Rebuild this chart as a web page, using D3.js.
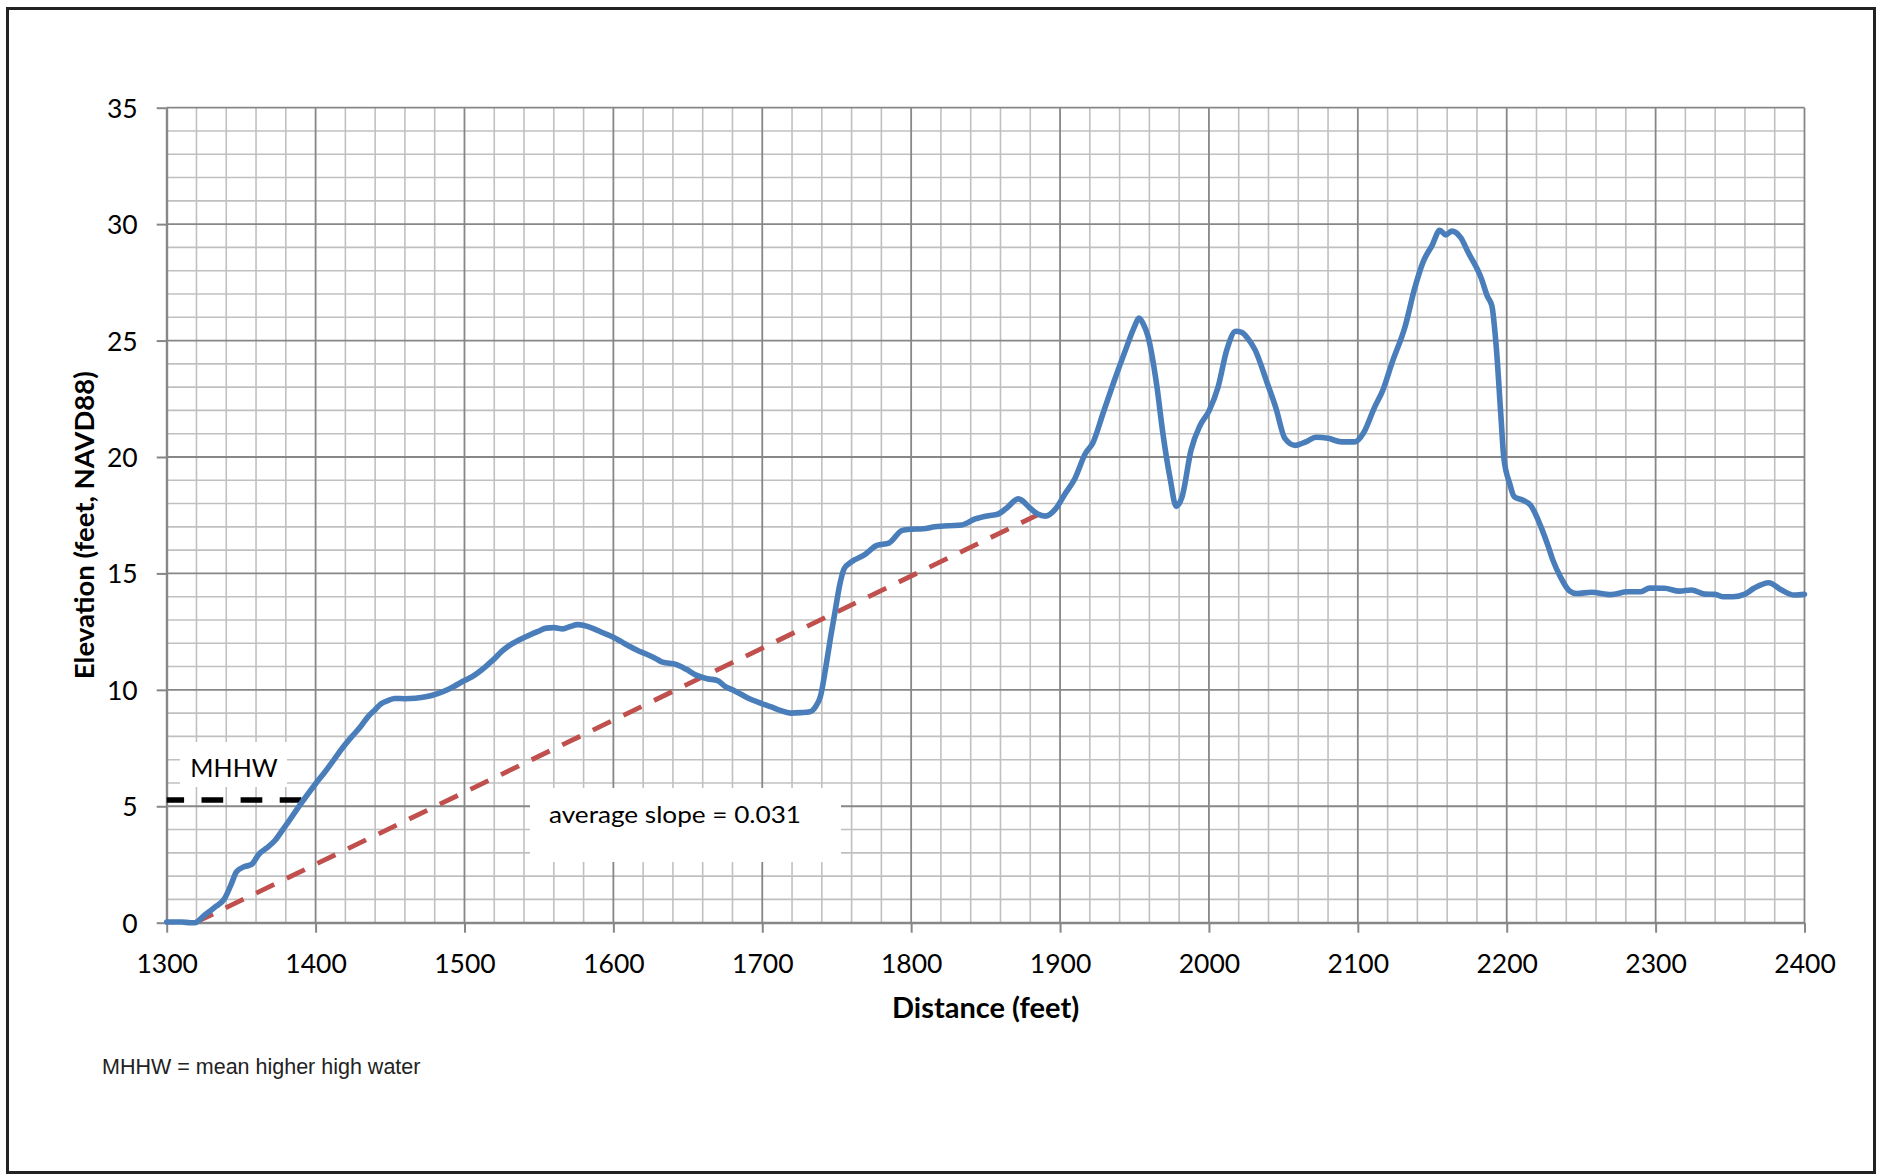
<!DOCTYPE html>
<html>
<head>
<meta charset="utf-8">
<script src="https://cdn.jsdelivr.net/npm/d3@7"></script>
<style>
  html, body { margin: 0; padding: 0; background: #fff; }
  svg { display: block; }
</style>
</head>
<body>
<svg id="chart" width="1881" height="1176"></svg>
<script>
// ---------- DATA ----------
const distance = [1300,1310,1316,1319,1325,1332,1339,1343,1347,1352,1357,1362,1367,1373,1378,1383,1390,1400,1406,1412,1418,1424,1430,1435,1440,1444,1449,1453,1460,1467,1474,1482,1490,1500,1506,1511,1516,1520,1525,1530,1537,1543,1549,1555,1560,1566,1571,1576,1581,1587,1593,1600,1605,1610,1616,1622,1628,1633,1642,1649,1656,1663,1670,1675,1680,1686,1691,1698,1706,1712,1719,1726,1732,1736,1739,1743,1746,1749,1752,1755,1760,1768,1777,1785,1794,1800,1808,1816,1825,1834,1843,1852,1858,1864,1872,1880,1885,1890,1897,1903,1910,1917,1922,1929,1936,1944,1950,1953,1956,1959,1965,1969,1974,1978,1982,1988,1994,2000,2006,2012,2018,2022,2026,2031,2039,2045,2051,2058,2065,2072,2080,2089,2098,2104,2111,2117,2123,2132,2138,2144,2150,2155,2159,2163,2169,2174,2183,2187,2190,2193,2196,2198,2202,2205,2211,2216,2223,2228,2231,2236,2242,2247,2257,2270,2281,2290,2296,2306,2316,2324,2333,2340,2345,2352,2360,2366,2376,2384,2393,2400];
const elevation = [0.03,0.03,0.0,0.0,0.3,0.65,1.05,1.6,2.2,2.4,2.5,2.95,3.2,3.55,4.0,4.45,5.1,5.97,6.45,6.97,7.5,7.97,8.4,8.83,9.15,9.4,9.55,9.63,9.62,9.64,9.7,9.84,10.05,10.4,10.6,10.83,11.1,11.33,11.65,11.9,12.15,12.33,12.5,12.65,12.67,12.62,12.72,12.8,12.75,12.62,12.45,12.26,12.08,11.9,11.7,11.54,11.36,11.19,11.09,10.88,10.62,10.48,10.4,10.15,10.0,9.8,9.63,9.45,9.27,9.12,9.0,9.02,9.06,9.3,9.7,11.1,12.3,13.4,14.5,15.2,15.5,15.77,16.2,16.3,16.85,16.9,16.92,17.0,17.05,17.08,17.34,17.48,17.54,17.8,18.2,17.8,17.55,17.46,17.77,18.38,19.08,20.15,20.6,21.9,23.2,24.6,25.6,25.97,25.7,25.2,23.05,21.05,19.05,17.88,18.3,20.3,21.35,21.97,22.97,24.6,25.4,25.35,25.1,24.6,23.2,22.1,20.8,20.5,20.65,20.85,20.8,20.65,20.65,21.05,22.1,22.9,24.05,25.66,27.2,28.4,29.1,29.74,29.54,29.7,29.43,28.8,27.66,26.9,26.5,24.7,21.86,20.0,18.86,18.3,18.14,17.93,17.0,16.14,15.57,14.86,14.26,14.14,14.19,14.09,14.21,14.21,14.37,14.36,14.24,14.29,14.11,14.1,14.0,14.0,14.11,14.36,14.6,14.31,14.07,14.1];

const slopeX = [1319, 1886];
const slopeY = [0, 17.55];
const mhhwX = [1300, 1392];
const mhhwY = [5.27, 5.27];

const xTicks = [1300,1400,1500,1600,1700,1800,1900,2000,2100,2200,2300,2400];
const yTicks = [0,5,10,15,20,25,30,35];
const xMinor = d3.range(1300, 2401, 20);
const yMinor = d3.range(0, 36, 1);

const xTitle = "Distance (feet)";
const yTitle = "Elevation (feet, NAVD88)";
const mhhwLabel = "MHHW";
const slopeLabel = "average slope = 0.031";
const footnote = "MHHW = mean higher high water";

// ---------- LAYOUT ----------
const L = 166.7, R = 1804.5, T = 107.7, B = 922.7;
const svg = d3.select("#chart");

const x = d3.scaleLinear().domain([1300, 2400]).range([L, R]);
const y = d3.scaleLinear().domain([0, 35]).range([B, T]);

// outer border
svg.append("rect").attr("x", 7.5).attr("y", 8.5).attr("width", 1867).attr("height", 1164)
  .attr("fill", "#fff").attr("stroke", "#222").attr("stroke-width", 3);

// minor grid
const grid = svg.append("g");
grid.selectAll(".vmin").data(xMinor.filter(d => d % 100 !== 0)).join("line")
  .attr("x1", d => x(d)).attr("x2", d => x(d)).attr("y1", T).attr("y2", B)
  .attr("stroke", "#c0c0c0").attr("stroke-width", 1.6);
grid.selectAll(".hmin").data(yMinor.filter(d => d % 5 !== 0)).join("line")
  .attr("x1", L).attr("x2", R).attr("y1", d => y(d)).attr("y2", d => y(d))
  .attr("stroke", "#c0c0c0").attr("stroke-width", 1.6);
// major grid
grid.selectAll(".vmaj").data(xTicks).join("line")
  .attr("x1", d => x(d)).attr("x2", d => x(d)).attr("y1", T).attr("y2", B)
  .attr("stroke", "#878787").attr("stroke-width", 1.8);
grid.selectAll(".hmaj").data(yTicks).join("line")
  .attr("x1", L).attr("x2", R).attr("y1", d => y(d)).attr("y2", d => y(d))
  .attr("stroke", "#878787").attr("stroke-width", 1.8);

// text boxes (white, cover grid)
const boxes = svg.append("g");
boxes.append("rect").attr("x", 180).attr("y", 742).attr("width", 107).attr("height", 45).attr("fill", "#fff");
boxes.append("rect").attr("x", 530).attr("y", 788).attr("width", 311).attr("height", 74).attr("fill", "#fff");

// axes
const xAxis = svg.append("g").attr("transform", `translate(0,${B})`)
  .call(d3.axisBottom(x).tickValues(xTicks).tickSize(10).tickSizeOuter(0).tickFormat(d3.format("d")));
xAxis.select(".domain").attr("stroke", "#878787").attr("stroke-width", 2);
xAxis.selectAll(".tick line").attr("stroke", "#878787").attr("stroke-width", 2);
xAxis.selectAll(".tick text").attr("y", 50).attr("dy", 0)
  .attr("font-family", "Lato, 'Open Sans', sans-serif").attr("font-size", 26.5).attr("fill", "#000");

const yAxis = svg.append("g").attr("transform", `translate(${L},0)`)
  .call(d3.axisLeft(y).tickValues(yTicks).tickSize(10).tickSizeOuter(0));
yAxis.select(".domain").attr("stroke", "#878787").attr("stroke-width", 2);
yAxis.selectAll(".tick line").attr("stroke", "#878787").attr("stroke-width", 2);
yAxis.selectAll(".tick text").attr("x", -29).attr("dy", "0.36em")
  .attr("font-family", "Lato, 'Open Sans', sans-serif").attr("font-size", 26.5).attr("fill", "#000");

// MHHW dashed line
svg.append("path")
  .datum(mhhwX.map((d, i) => [d, mhhwY[i]]))
  .attr("d", d3.line().x(d => x(d[0])).y(d => y(d[1])))
  .attr("fill", "none").attr("stroke", "#000").attr("stroke-width", 5.5)
  .attr("stroke-dasharray", "21.7,17.4").attr("stroke-dashoffset", 4.3);

// slope dashed line
svg.append("path")
  .datum(slopeX.map((d, i) => [d, slopeY[i]]))
  .attr("d", d3.line().x(d => x(d[0])).y(d => y(d[1])))
  .attr("fill", "none").attr("stroke", "#c0504d").attr("stroke-width", 4.8)
  .attr("stroke-dasharray", "20,14");

// profile line
svg.append("path")
  .datum(distance.map((d, i) => [d, elevation[i]]))
  .attr("d", d3.line().x(d => x(d[0])).y(d => y(d[1])).curve(d3.curveMonotoneX))
  .attr("fill", "none").attr("stroke", "#4a7ebb").attr("stroke-width", 5.6)
  .attr("stroke-linejoin", "round").attr("stroke-linecap", "round");

// labels
svg.append("text").attr("x", 234).attr("y", 777).attr("text-anchor", "middle")
  .attr("font-family", "Lato, sans-serif").attr("font-size", 25).attr("fill", "#000").text(mhhwLabel);
svg.append("text").attr("x", 549).attr("y", 823).attr("textLength", 252).attr("lengthAdjust", "spacingAndGlyphs")
  .attr("font-family", "Lato, sans-serif").attr("font-size", 23).attr("fill", "#000").text(slopeLabel);

// axis titles
svg.append("text").attr("x", (L + R) / 2).attr("y", 1018).attr("text-anchor", "middle")
  .attr("font-family", "Lato, sans-serif").attr("font-weight", "bold").attr("font-size", 29).attr("fill", "#000").text(xTitle);
svg.append("text").attr("transform", `translate(94,${(T + B) / 2 + 10}) rotate(-90)`).attr("text-anchor", "middle")
  .attr("font-family", "Lato, sans-serif").attr("font-weight", "bold").attr("font-size", 27.5).attr("fill", "#000").text(yTitle);

// footnote
svg.append("text").attr("x", 102).attr("y", 1074)
  .attr("font-family", "'Liberation Sans', Arial, sans-serif").attr("font-size", 21.5).attr("fill", "#222").text(footnote);
</script>
</body>
</html>
